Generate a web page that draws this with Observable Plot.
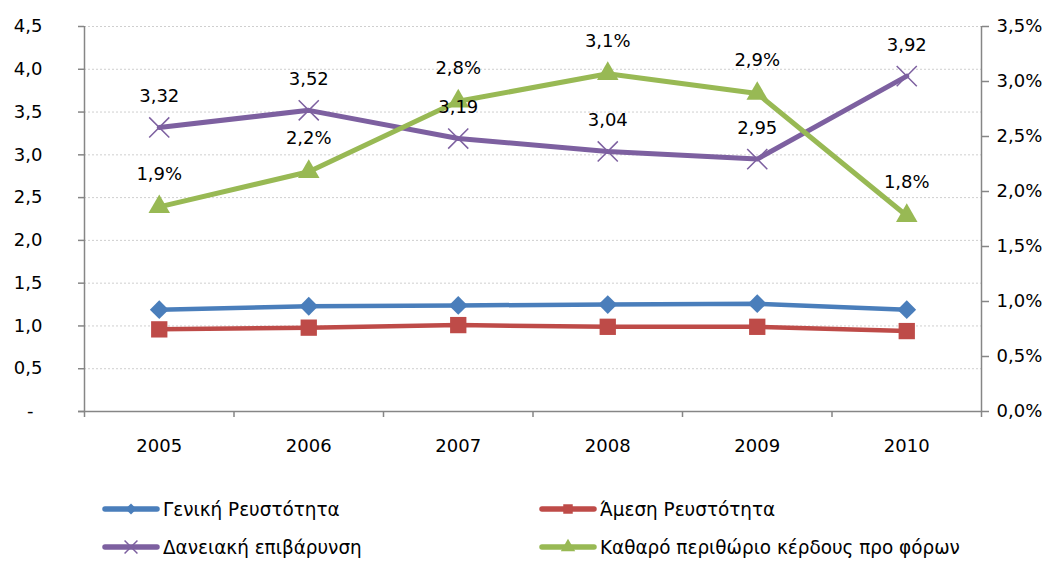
<!DOCTYPE html>
<html>
<head>
<meta charset="utf-8">
<script src="https://cdn.jsdelivr.net/npm/d3@7"></script>
<script src="https://cdn.jsdelivr.net/npm/@observablehq/plot@0.6"></script>
<style>
  body { margin: 0; background: #fff; font-family: "DejaVu Sans", Verdana, sans-serif; }
  #chart { width: 1059px; height: 470px; }
  .legend { position: relative; height: 91px; width: 1059px; overflow: hidden; }
  .item { position: absolute; display: flex; align-items: center; height: 24px; }
  .item svg { flex: none; }
  .item span { display: inline-block; font-family: "DejaVu Sans", sans-serif; font-size: 20px; line-height: 22px; color: #000;
               white-space: nowrap; margin-left: 3px; transform: scaleX(0.92); transform-origin: left center; }
</style>
</head>
<body>
<div id="chart"></div>
<script>
const years = [2005, 2006, 2007, 2008, 2009, 2010];
const genikh = [1.19, 1.23, 1.24, 1.25, 1.26, 1.19];
const amesh = [0.96, 0.98, 1.01, 0.99, 0.99, 0.94];
const daneiakh = [3.32, 3.52, 3.19, 3.04, 2.95, 3.92];
const perithorio = [1.86, 2.18, 2.82, 3.07, 2.89, 1.78]; // percent, right axis
const leftTicks = [0, 0.5, 1, 1.5, 2, 2.5, 3, 3.5, 4, 4.5];
const rightTicks = [0, 0.5, 1, 1.5, 2, 2.5, 3, 3.5];
const seriesNames = ["Γενική Ρευστότητα", "Άμεση Ρευστότητα", "Δανειακή επιβάρυνση", "Καθαρό περιθώριο κέρδους προ φόρων"];
const colors = ["#4a7ebb", "#be4b48", "#7d60a0", "#98b954"];

const k = 4.5 / 3.5; // right axis maps onto left scale
const comma = (s) => s.replace(".", ",");

const rows = (vals, name, scale = 1) => years.map((y, i) => ({year: y, v: vals[i], y: vals[i] * scale, name}));
const dG = rows(genikh, seriesNames[0]);
const dA = rows(amesh, seriesNames[1]);
const dD = rows(daneiakh, seriesNames[2]);
const dP = rows(perithorio, seriesNames[3], k);

const edges = d3.range(years.length + 1).map(i => years[0] - 0.5 + i);

const axisColor = "#868686";
const chart = Plot.plot({
  width: 1059,
  height: 470,
  marginLeft: 84,
  marginRight: 78,
  marginTop: 26,
  marginBottom: 59,
  style: {fontFamily: "'DejaVu Sans', Verdana, sans-serif", fontSize: "18px", color: "#000", background: "#fff"},
  x: {type: "linear", domain: [years[0] - 0.5, years[years.length - 1] + 0.5], label: null},
  y: {type: "linear", domain: [0, 4.5], label: null},
  marks: [
    Plot.gridY(leftTicks.slice(1), {stroke: "#cfcfcf", strokeOpacity: 1, strokeDasharray: "2,2"}),
    Plot.ruleY([0], {stroke: axisColor, strokeWidth: 1.5, insetLeft: -6}),
    Plot.ruleX([edges[0], edges[edges.length - 1]], {stroke: axisColor, strokeWidth: 1.5}),
    Plot.axisX(edges, {tickSize: 6, stroke: axisColor, strokeWidth: 1.5, tickFormat: () => "", label: null}),
    Plot.axisX(years, {tickSize: 0, tickPadding: 28, tickFormat: d => String(d), fontSize: 18, label: null}),
    Plot.axisY(leftTicks, {anchor: "left", tickSize: 6, stroke: axisColor, strokeWidth: 1.5, tickPadding: 36,
      tickFormat: d => d === 0 ? "-\u2002" : comma(d.toFixed(1)), fontSize: 18, label: null}),
    Plot.axisY(rightTicks.map(t => t * k), {anchor: "right", tickSize: 7, stroke: axisColor, strokeWidth: 1.5, tickPadding: 8,
      tickFormat: d => comma((d / k).toFixed(1)) + "%", fontSize: 18, label: null}),
    Plot.line(dG, {x: "year", y: "y", stroke: colors[0], strokeWidth: 4.5}),
    Plot.line(dA, {x: "year", y: "y", stroke: colors[1], strokeWidth: 4.5}),
    Plot.line(dD, {x: "year", y: "y", stroke: colors[2], strokeWidth: 5}),
    Plot.line(dP, {x: "year", y: "y", stroke: colors[3], strokeWidth: 5}),
    Plot.dot(dG, {x: "year", y: "y", symbol: "square", rotate: 45, fill: colors[0], r: 7.5}),
    Plot.dot(dA, {x: "year", y: "y", symbol: "square", fill: colors[1], r: 9.2}),
    Plot.dot(dD, {x: "year", y: "y", symbol: "times", stroke: colors[2], strokeWidth: 1.5, r: 9.2}),
    Plot.dot(dP, {x: "year", y: "y", symbol: "triangle", fill: colors[3], r: 8}),
    Plot.text(dD, {x: "year", y: "y", text: d => comma(d.v.toFixed(2)), dy: -31, fontSize: 18, fill: "#000"}),
    Plot.text(dP, {x: "year", y: "y", text: d => comma(d.v.toFixed(1)) + "%", dy: -33, fontSize: 18, fill: "#000"})
  ]
});
document.getElementById("chart").appendChild(chart);

// legend
const legend = document.createElement("div");
legend.className = "legend";
const symbols = ["diamond", "square", "times", "triangle"];
const positions = [[102, 39], [539, 39], [102, 77], [539, 77]];
seriesNames.forEach((name, i) => {
  const item = document.createElement("div");
  item.className = "item";
  item.style.left = positions[i][0] + "px";
  item.style.top = (positions[i][1] - 12) + "px";
  const s = d3.create("svg").attr("width", 58).attr("height", 24);
  s.append("line").attr("x1", 3).attr("x2", 55).attr("y1", 12).attr("y2", 12)
    .attr("stroke", colors[i]).attr("stroke-width", 5.5).attr("stroke-linecap", "round");
  const sym = {diamond: d3.symbolSquare, square: d3.symbolSquare, times: d3.symbolTimes, triangle: d3.symbolTriangle}[symbols[i]];
  const sizes = {diamond: 60, square: 90, times: 110, triangle: 90};
  const p = s.append("path")
    .attr("transform", "translate(29,12)" + (symbols[i] === "diamond" ? " rotate(45)" : ""))
    .attr("d", d3.symbol(sym, sizes[symbols[i]])());
  if (symbols[i] === "times") p.attr("fill", "none").attr("stroke", colors[i]).attr("stroke-width", 1.5);
  else p.attr("fill", colors[i]);
  item.appendChild(s.node());
  const t = document.createElement("span");
  t.textContent = name;
  item.appendChild(t);
  legend.appendChild(item);
});
document.body.appendChild(legend);
</script>
</body>
</html>
